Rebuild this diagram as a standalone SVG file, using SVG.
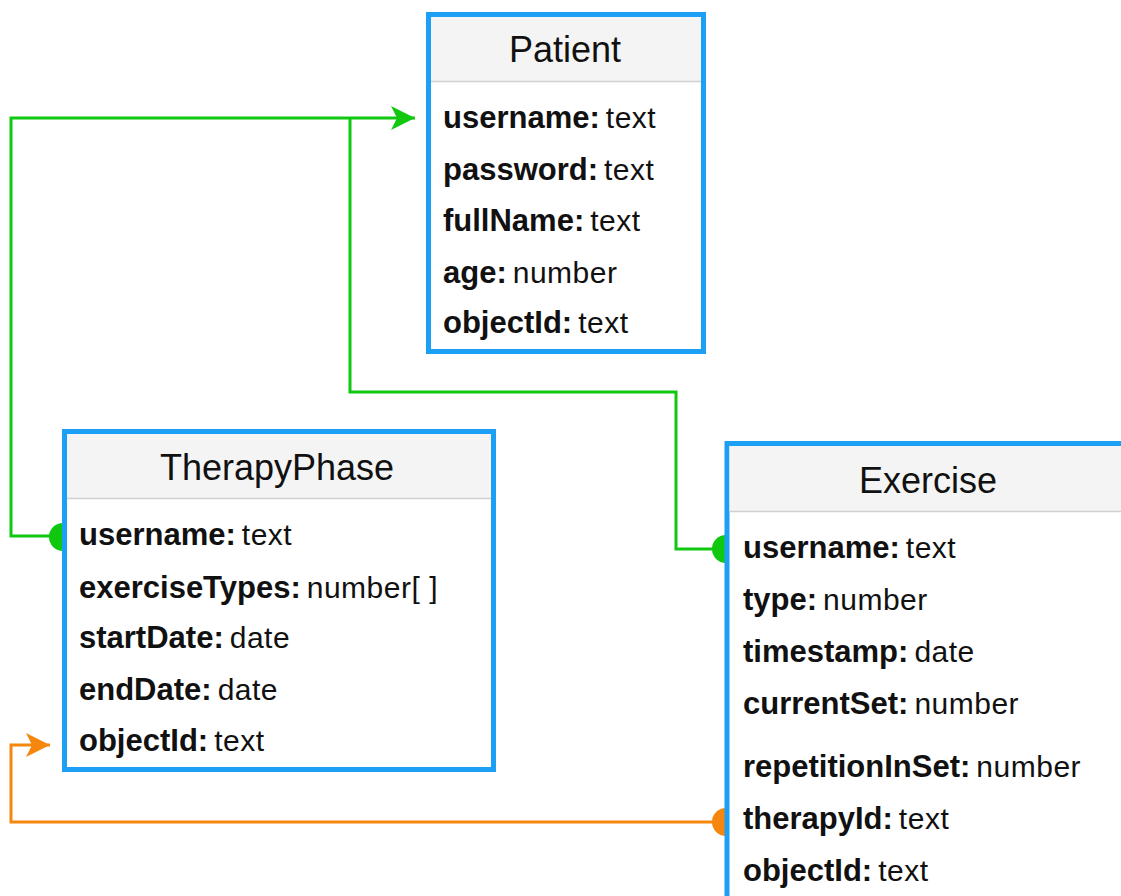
<svg xmlns="http://www.w3.org/2000/svg" width="1121" height="896" viewBox="0 0 1121 896">
  <defs>
    <style>
      .box { fill: #ffffff; stroke: #1ba0f5; stroke-width: 5; }
      .head { fill: #f4f4f4; }
      .sep { stroke: #d0d0d0; stroke-width: 1.5; }
      .title { font-family: "Liberation Sans", Arial, sans-serif; font-size: 36px; fill: #111111; text-anchor: middle; }
      .row { font-family: "Liberation Sans", Arial, sans-serif; font-size: 30px; letter-spacing: 0.5px; fill: #111111; }
      .row .k { font-weight: bold; font-size: 31px; letter-spacing: 0; }
      .green { fill: none; stroke: #11c811; stroke-width: 3; }
      .orange { fill: none; stroke: #f5870f; stroke-width: 3; }
    </style>
    <marker id="arrowGreen" viewBox="0 0 24 24" refX="24" refY="12" markerWidth="24" markerHeight="24" markerUnits="userSpaceOnUse" orient="auto">
      <path d="M0,0 L24,12 L0,24 L6,12 Z" fill="#11c811"/>
    </marker>
    <marker id="arrowOrange" viewBox="0 0 24 24" refX="24" refY="12" markerWidth="24" markerHeight="24" markerUnits="userSpaceOnUse" orient="auto">
      <path d="M0,0 L24,12 L0,24 L6,12 Z" fill="#f5870f"/>
    </marker>
  </defs>

  <rect x="0" y="0" width="1121" height="896" fill="#ffffff"/>

  <!-- relationship connectors -->
  <g id="connectors">
    <path class="green" d="M62,536 L11,536 L11,118 L415,118" marker-end="url(#arrowGreen)"/>
    <path class="green" d="M727,549 L676,549 L676,392 L350,392 L350,118"/>
    <path class="orange" d="M727,822 L11,822 L11,745 L50,745" marker-end="url(#arrowOrange)"/>
    <circle cx="63" cy="537" r="14" fill="#11c811"/>
    <circle cx="726" cy="549" r="14" fill="#11c811"/>
    <circle cx="726" cy="822" r="14" fill="#f5870f"/>
  </g>

  <!-- Patient -->
  <g id="patient">
    <rect class="box" x="428.5" y="14.5" width="275" height="337"/>
    <rect class="head" x="431" y="17" width="270" height="64"/>
    <line class="sep" x1="431" y1="81.5" x2="701" y2="81.5"/>
    <text class="title" x="565" y="62">Patient</text>
    <text class="row" x="443" y="128"><tspan class="k">username:</tspan><tspan dx="6">text</tspan></text>
    <text class="row" x="443" y="180"><tspan class="k">password:</tspan><tspan dx="6">text</tspan></text>
    <text class="row" x="443" y="231"><tspan class="k">fullName:</tspan><tspan dx="6">text</tspan></text>
    <text class="row" x="443" y="283"><tspan class="k">age:</tspan><tspan dx="6">number</tspan></text>
    <text class="row" x="443" y="333"><tspan class="k">objectId:</tspan><tspan dx="6">text</tspan></text>
  </g>

  <!-- TherapyPhase -->
  <g id="therapyPhase">
    <rect class="box" x="64.5" y="431.5" width="429" height="338"/>
    <rect class="head" x="67" y="434" width="424" height="64"/>
    <line class="sep" x1="67" y1="498.5" x2="491" y2="498.5"/>
    <text class="title" x="277" y="480">TherapyPhase</text>
    <text class="row" x="79" y="545"><tspan class="k">username:</tspan><tspan dx="6">text</tspan></text>
    <text class="row" x="79" y="598"><tspan class="k">exerciseTypes:</tspan><tspan dx="6">number[ ]</tspan></text>
    <text class="row" x="79" y="648"><tspan class="k">startDate:</tspan><tspan dx="6">date</tspan></text>
    <text class="row" x="79" y="700"><tspan class="k">endDate:</tspan><tspan dx="6">date</tspan></text>
    <text class="row" x="79" y="751"><tspan class="k">objectId:</tspan><tspan dx="6">text</tspan></text>
  </g>

  <!-- Exercise -->
  <g id="exercise">
    <rect class="box" x="727" y="443.5" width="400" height="470"/>
    <rect class="head" x="729.5" y="446" width="395" height="65"/>
    <line class="sep" x1="729.5" y1="511.5" x2="1124" y2="511.5"/>
    <text class="title" x="928" y="493">Exercise</text>
    <text class="row" x="743" y="558"><tspan class="k">username:</tspan><tspan dx="6">text</tspan></text>
    <text class="row" x="743" y="610"><tspan class="k">type:</tspan><tspan dx="6">number</tspan></text>
    <text class="row" x="743" y="662"><tspan class="k">timestamp:</tspan><tspan dx="6">date</tspan></text>
    <text class="row" x="743" y="714"><tspan class="k">currentSet:</tspan><tspan dx="6">number</tspan></text>
    <text class="row" x="743" y="777"><tspan class="k">repetitionInSet:</tspan><tspan dx="6">number</tspan></text>
    <text class="row" x="743" y="829"><tspan class="k">therapyId:</tspan><tspan dx="6">text</tspan></text>
    <text class="row" x="743" y="881"><tspan class="k">objectId:</tspan><tspan dx="6">text</tspan></text>
  </g>
</svg>
